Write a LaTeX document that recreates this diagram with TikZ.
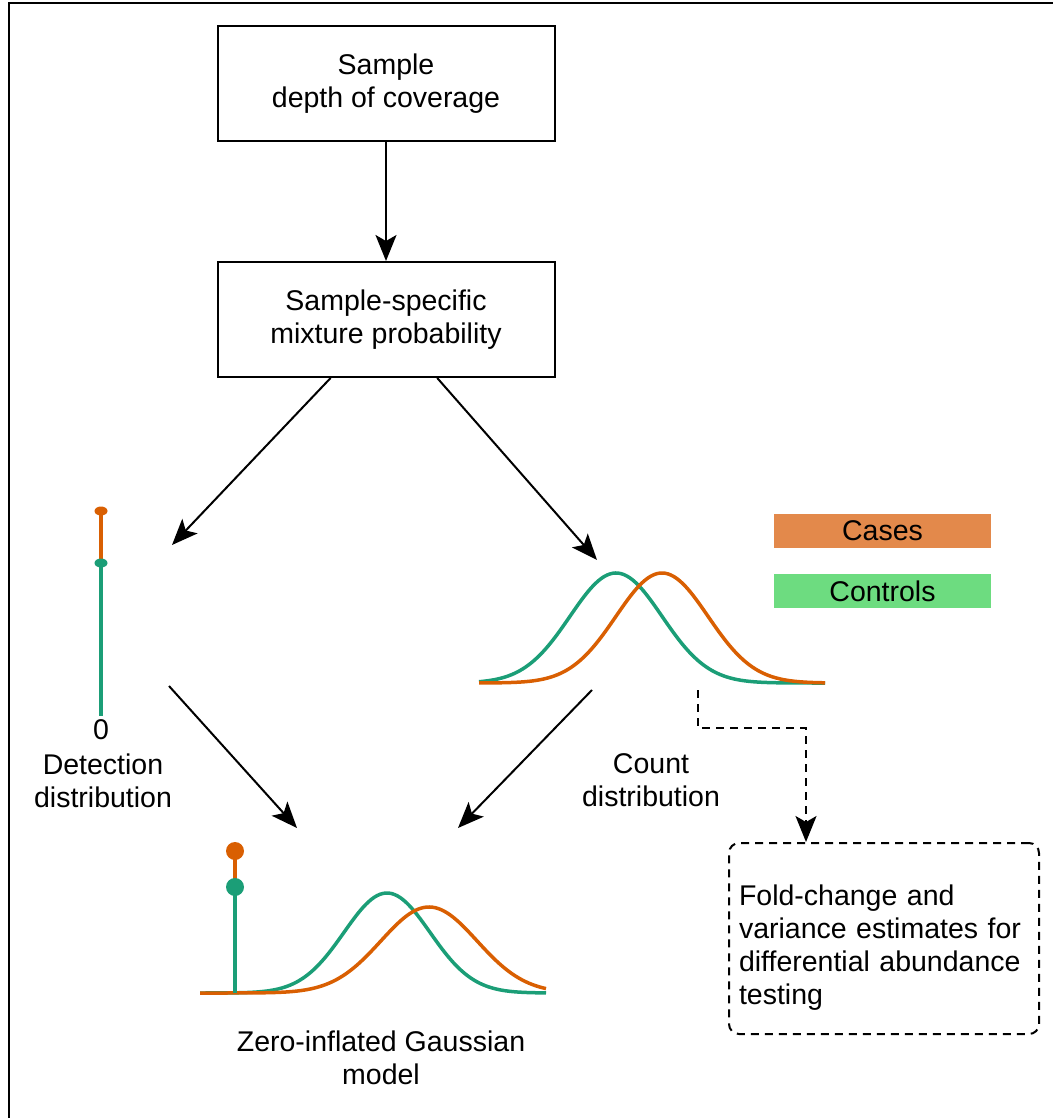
\documentclass[tikz,border=0pt]{standalone}
\usepackage{fontspec}
\setmainfont{Liberation Sans}
\usepackage{tikz}
\usetikzlibrary{calc, arrows.meta, positioning}
\tikzset{
    shapenode/.style = {draw, rectangle, line width=2pt, fill=none, node distance=0em, align=center,
      minimum width=337pt, minimum height=115pt, font=\fontsize{28.5}{33}\selectfont},
    keynode/.style = {draw=none, rectangle, inner sep=0em, node distance=0em,
      minimum width=217pt, minimum height=34pt, font=\fontsize{28.5}{33}\selectfont},
    textnode/.style = {draw=none, fill=none, rectangle, inner sep=0em, node distance=0em, align=center,
      font=\fontsize{28.5}{33}\selectfont},
    dashnode/.style = {draw, rectangle, rounded corners=10pt, line width=2pt, dash pattern=on 8pt off 6pt,
      node distance=0em, minimum width=310pt, minimum height=191pt, text width=290pt, align=left,
      font=\fontsize{28.5}{33}\selectfont},
    connect/.style = {black, line width=2pt, -{Stealth[length=26pt, width=21pt, inset=6pt]}},
    dashconnect/.style = {connect, dash pattern=on 8pt off 6pt},
    casesline/.style = {draw=casesorange, line width=3.5pt},
    controlsline/.style = {draw=controlsgreen, line width=3.5pt},
    frame/.style = {draw, line width=2.5pt}
}
\definecolor{casesorange}{RGB}{217, 95, 2}
\definecolor{controlsgreen}{RGB}{27, 158, 119}
\definecolor{caseskey}{RGB}{227, 137, 75}
\definecolor{controlskey}{RGB}{109, 220, 128}

\begin{document}
\begin{tikzpicture}[x=1pt, y=-1pt]
    \useasboundingbox (0,0) rectangle (1052,1118);
    \draw[frame] (9,3) rectangle (1080,1140);

    \node [shapenode, name=depth] at (386,83.5) {Sample\\depth of coverage};
    \node [shapenode, name=mixture, below of=depth, yshift=-236pt] {Sample-specific\\mixture probability};
    \draw (depth) edge[connect] (mixture);

    \node [keynode, fill=caseskey, name=cases, right of=mixture, xshift=496.5pt, yshift=-211.5pt] {Cases};
    \node [keynode, fill=controlskey, name=controls, below of=cases, yshift=-60pt] {Controls};

    % detection distribution
    \draw[casesline] (101,511) -- (101,563);
    \draw[controlsline] (101,563) -- (101,716);
    \fill[casesorange] (101,511) ellipse [x radius=6.5pt, y radius=4.5pt];
    \fill[controlsgreen] (101,563) ellipse [x radius=6.5pt, y radius=4.5pt];
    \node [textnode, name=zerotick, below of=mixture, xshift=-285pt, yshift=-410.5pt] {0};
    \node [textnode, name=detection, below of=zerotick, xshift=2pt, yshift=-50.5pt] {Detection\\distribution};

    % count distribution
    \draw[controlsline] plot[domain=479:825, samples=120, smooth] (\x, {683-110*exp(-0.5*((\x-616)/46)^2)});
    \draw[casesline] plot[domain=479:825, samples=120, smooth] (\x, {683-110*exp(-0.5*((\x-662)/46)^2)});
    \node [textnode, name=count, right of=detection, xshift=548pt] {Count\\distribution};

    % zero-inflated model
    \draw[controlsline] plot[domain=200:546, samples=120, smooth] (\x, {993-100*exp(-0.5*((\x-387)/43)^2)});
    \draw[casesline] plot[domain=200:546, samples=120, smooth] (\x, {993-86*exp(-0.5*((\x-429)/48)^2)});
    \draw[casesline] (235,851) -- (235,887);
    \draw[controlsline] (235,887) -- (235,993);
    \fill[casesorange] (235,851) circle [radius=9pt];
    \fill[controlsgreen] (235,887) circle [radius=9pt];
    \node [textnode, name=zig, below of=mixture, xshift=-5pt, yshift=-738.5pt] {Zero-inflated Gaussian\\model};

    \node [dashnode, name=foldchange, below of=controls, xshift=1.5pt, yshift=-347.5pt]
        {\rule{0pt}{38pt}Fold-change and\\variance estimates for\\differential abundance\\testing};

    \coordinate (detin) at (172,545);
    \coordinate (cntin) at (597,560);
    \coordinate (detout) at (169,686);
    \coordinate (zigl) at (297,828);
    \coordinate (cntout) at (592,690);
    \coordinate (zigr) at (458,828);
    \coordinate (cntdash) at (698,690);
    \coordinate (bend) at (806,728);

    \draw (mixture) edge[connect] (detin);
    \draw (mixture) edge[connect] (cntin);
    \draw (detout) edge[connect] (zigl);
    \draw (cntout) edge[connect] (zigr);
    \draw[dashconnect] (cntdash) |- (bend) -- (bend |- foldchange.north);
\end{tikzpicture}
\end{document}
